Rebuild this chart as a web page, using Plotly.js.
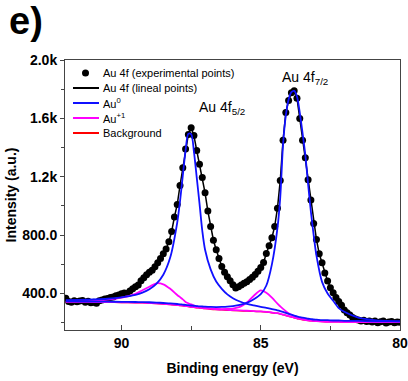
<!DOCTYPE html>
<html>
<head>
<meta charset="utf-8">
<script src="https://cdn.plot.ly/plotly-3.0.1.min.js"></script>
<style>html,body{margin:0;padding:0;background:#fff;}#chart{width:408px;height:381px;}</style>
</head>
<body>
<div id="chart"></div>
<script>
// Experimental points (binding energy, intensity)
const expX = [92.0,91.9,91.8,91.7,91.6,91.5,91.4,91.3,91.2,91.1,91.0,90.9,90.8,90.7,90.6,90.5,90.4,90.3,90.2,90.1,
  90.0,89.9,89.8,89.7,89.6,89.5,89.4,89.3,89.2,89.1,89.0,88.9,88.8,88.7,88.6,88.5,88.4,88.3,88.2,88.1,
  88.0,87.9,87.8,87.7,87.6,87.5,87.4,87.3,87.2,87.1,87.0,86.9,86.8,86.7,86.6,86.5,86.4,86.3,86.2,86.1,
  86.0,85.9,85.8,85.7,85.6,85.5,85.4,85.3,85.2,85.1,85.0,84.9,84.8,84.7,84.6,84.5,84.4,84.3,84.2,84.1,
  84.0,83.9,83.8,83.7,83.6,83.5,83.4,83.3,83.2,83.1,83.0,82.9,82.8,82.7,82.6,82.5,82.4,82.3,82.2,82.1,
  82.0,81.9,81.8,81.7,81.6,81.5,81.4,81.3,81.2,81.1,81.0,80.9,80.8,80.7,80.6,80.5,80.4,80.3,80.2,80.1,80.0];
const expY = [368,346,340,350,343,348,352,340,347,336,340,334,350,356,362,366,372,376,384,390,
  398,404,400,418,432,446,458,488,508,528,545,560,584,610,640,672,705,755,825,925,
  1010,1140,1262,1390,1490,1535,1482,1380,1285,1195,1090,965,860,765,700,640,585,545,515,488,
  460,438,446,458,470,480,496,512,530,552,578,612,675,728,782,860,985,1175,1450,1640,
  1722,1775,1790,1738,1600,1450,1330,1180,1040,880,770,672,610,540,485,440,405,372,345,320,
  287,268,252,236,226,218,212,216,208,212,205,211,200,206,212,198,205,208,200,204,203];

// Fitted components (sampled along the energy axis)
const fitX = [92,91.5,91,90.5,90,89.5,89.25,89,88.75,88.5,88.25,88,
  87.9,87.8,87.7,87.6,87.5,87.4,87.3,87.2,87.1,87,
  86.8,86.6,86.4,86.2,86,85.75,85.5,85.25,85,
  84.8,84.6,84.4,84.3,84.2,84.1,84,
  83.9,83.8,83.7,83.6,83.5,83.4,83.3,83.2,83.1,83,
  82.8,82.6,82.4,82.2,82,81.5,81,80.5,80];
const background = [343,342,341,340,339,337,336,334,332,329,325,320,
  318,316,313,311,308,306,303,301,299,297,
  293,290,288,286,284,282,280,278,276,
  273,269,264,260,255,250,244,
  239,234,229,225,221,218,215,213,211,210,
  208,207,206,206,205,205,204,204,204];
const au1Peak1 = [345,346,350,358,372,398,422,446,470,463,432,390,
  375,360,342,333,325,318,312,307,304,301,
  296,292,290,288,286,284,282,279,277,
  274,270,265,261,256,251,245,
  240,235,230,226,222,219,216,214,212,211,
  209,208,207,207,206,206,205,205,205];
const au1Peak2 = [344,343,342,341,340,338,337,335,333,330,326,321,
  319,317,314,312,309,307,305,303,301,299,
  296,294,293,294,297,308,338,385,421,
  405,372,330,312,295,279,265,
  254,245,238,231,226,222,219,216,214,212,
  210,208,207,207,206,206,205,205,205];
const au0Peak52 = [354,356,359,364,374,391,406,429,466,529,648,886,
  1032,1207,1380,1495,1492,1373,1196,1017,830,700,
  565,482,432,394,368,345,329,318,308,
  301,293,285,280,274,268,261,
  255,249,243,239,234,231,227,225,222,221,
  218,217,215,215,213,212,210,209,209];
const au0Peak72 = [346,345,345,344,343,342,341,340,338,335,332,328,
  326,324,322,320,318,316,314,312,311,310,
  308,307,308,310,314,322,336,360,395,
  455,600,850,1060,1420,1620,1730,
  1780,1788,1750,1640,1500,1350,1150,960,800,660,
  480,400,350,300,275,235,220,212,209];

// Axis ticks
const yTickVals = [400, 800, 1200, 1600, 2000];
const yTickText = ['400.0', '800.0', '1.2k', '1.6k', '2.0k'];
const yMinorVals = [200, 600, 1000, 1400, 1800];
const xTickVals = [90, 85, 80];
const xTickText = ['90', '85', '80'];
const xMinorVals = [87.5, 82.5];

// Legend entries
const legendNames = ['Au 4f (experimental points)', 'Au 4f (lineal points)', 'Au<sup>0</sup>', 'Au<sup>+1</sup>', 'Background'];
const legendColors = ['#000', '#000', '#1010ff', '#ff00ff', '#ff0000'];

const FONT = 'Liberation Sans, Arial, Helvetica, sans-serif';
const BLUE = '#1010ff', MAG = '#ff00ff', RED = '#ff0000';

const traces = [
  {x: expX, y: expY, mode: 'markers', marker: {color: '#000', size: 7}},
  {x: expX, y: expY, mode: 'lines', line: {color: '#000', width: 1.5}},
  {x: fitX, y: background, mode: 'lines', line: {color: RED, width: 1.5, shape: 'spline', smoothing: 0.8}},
  {x: fitX, y: au1Peak1, mode: 'lines', line: {color: MAG, width: 1.8, shape: 'spline', smoothing: 0.8}},
  {x: fitX, y: au1Peak2, mode: 'lines', line: {color: MAG, width: 1.8, shape: 'spline', smoothing: 0.8}},
  {x: fitX, y: au0Peak52, mode: 'lines', line: {color: BLUE, width: 1.8, shape: 'spline', smoothing: 0.8}},
  {x: fitX, y: au0Peak72, mode: 'lines', line: {color: BLUE, width: 1.8, shape: 'spline', smoothing: 0.8}}
];

// Compact legend built from shapes + annotations (paper coordinates)
const plotL = 65, plotT = 60, plotW = 335, plotH = 270;
const px = v => (v - plotL) / plotW;
const py = v => (plotT + plotH - v) / plotH;
const rowY = [73, 88, 103, 118, 133];
const shapes = [];
const annotations = [];
legendNames.forEach((name, i) => {
  if (i === 0) {
    shapes.push({type: 'circle', xref: 'paper', yref: 'paper',
      x0: px(82), x1: px(89), y0: py(rowY[i] + 3.5), y1: py(rowY[i] - 3.5),
      fillcolor: '#000', line: {color: '#000', width: 0}});
  } else {
    shapes.push({type: 'line', xref: 'paper', yref: 'paper',
      x0: px(73), x1: px(99), y0: py(rowY[i]), y1: py(rowY[i]),
      line: {color: legendColors[i], width: 2}});
  }
  annotations.push({xref: 'paper', yref: 'paper', x: px(101), y: py(rowY[i]),
    xanchor: 'left', yanchor: 'middle', showarrow: false, text: name,
    font: {family: FONT, size: 11, color: '#000'}});
});
annotations.push(
  {x: 87.3, y: 1668, xref: 'x', yref: 'y', text: 'Au 4f<sub>5/2</sub>', showarrow: false,
   xanchor: 'left', yanchor: 'middle', font: {family: FONT, size: 14, color: '#000'}},
  {x: 84.32, y: 1880, xref: 'x', yref: 'y', text: 'Au 4f<sub>7/2</sub>', showarrow: false,
   xanchor: 'left', yanchor: 'middle', font: {family: FONT, size: 14, color: '#000'}}
);

const layout = {
  width: 408, height: 381,
  margin: {l: 65, r: 8, t: 60, b: 51},
  paper_bgcolor: '#fff', plot_bgcolor: '#fff',
  font: {family: FONT, color: '#000'},
  showlegend: false,
  title: {text: '<b>e)</b>', x: 9/408, xref: 'container', xanchor: 'left',
          y: 1 - 7/381, yref: 'container', yanchor: 'top',
          font: {family: FONT, size: 38, color: '#000'}},
  xaxis: {range: [92.03, 80], autorange: false, showgrid: false, zeroline: false,
          showline: true, mirror: true, linecolor: '#444', linewidth: 1,
          tickmode: 'array', tickvals: xTickVals, ticktext: xTickText,
          ticks: 'inside', ticklen: 5, tickcolor: '#444',
          minor: {tickmode: 'array', tickvals: xMinorVals, ticks: 'inside', ticklen: 4, tickcolor: '#444'},
          tickfont: {family: FONT, size: 14, weight: 'bold'},
          title: {text: 'Binding energy (eV)', font: {family: FONT, size: 14, weight: 'bold'}, standoff: 13}},
  yaxis: {range: [150, 2000], autorange: false, showgrid: false, zeroline: false,
          showline: true, mirror: true, linecolor: '#444', linewidth: 1,
          tickmode: 'array', tickvals: yTickVals, ticktext: yTickText,
          ticks: 'outside', ticklen: 4, tickcolor: '#444',
          minor: {tickmode: 'array', tickvals: yMinorVals, ticks: 'outside', ticklen: 3, tickcolor: '#444'},
          tickfont: {family: FONT, size: 14, weight: 'bold'},
          title: {text: 'Intensity (a.u.)', font: {family: FONT, size: 14, weight: 'bold'}, standoff: 2}},
  shapes: shapes,
  annotations: annotations
};

Plotly.newPlot('chart', traces, layout, {displayModeBar: false, staticPlot: true});
</script>
</body>
</html>
